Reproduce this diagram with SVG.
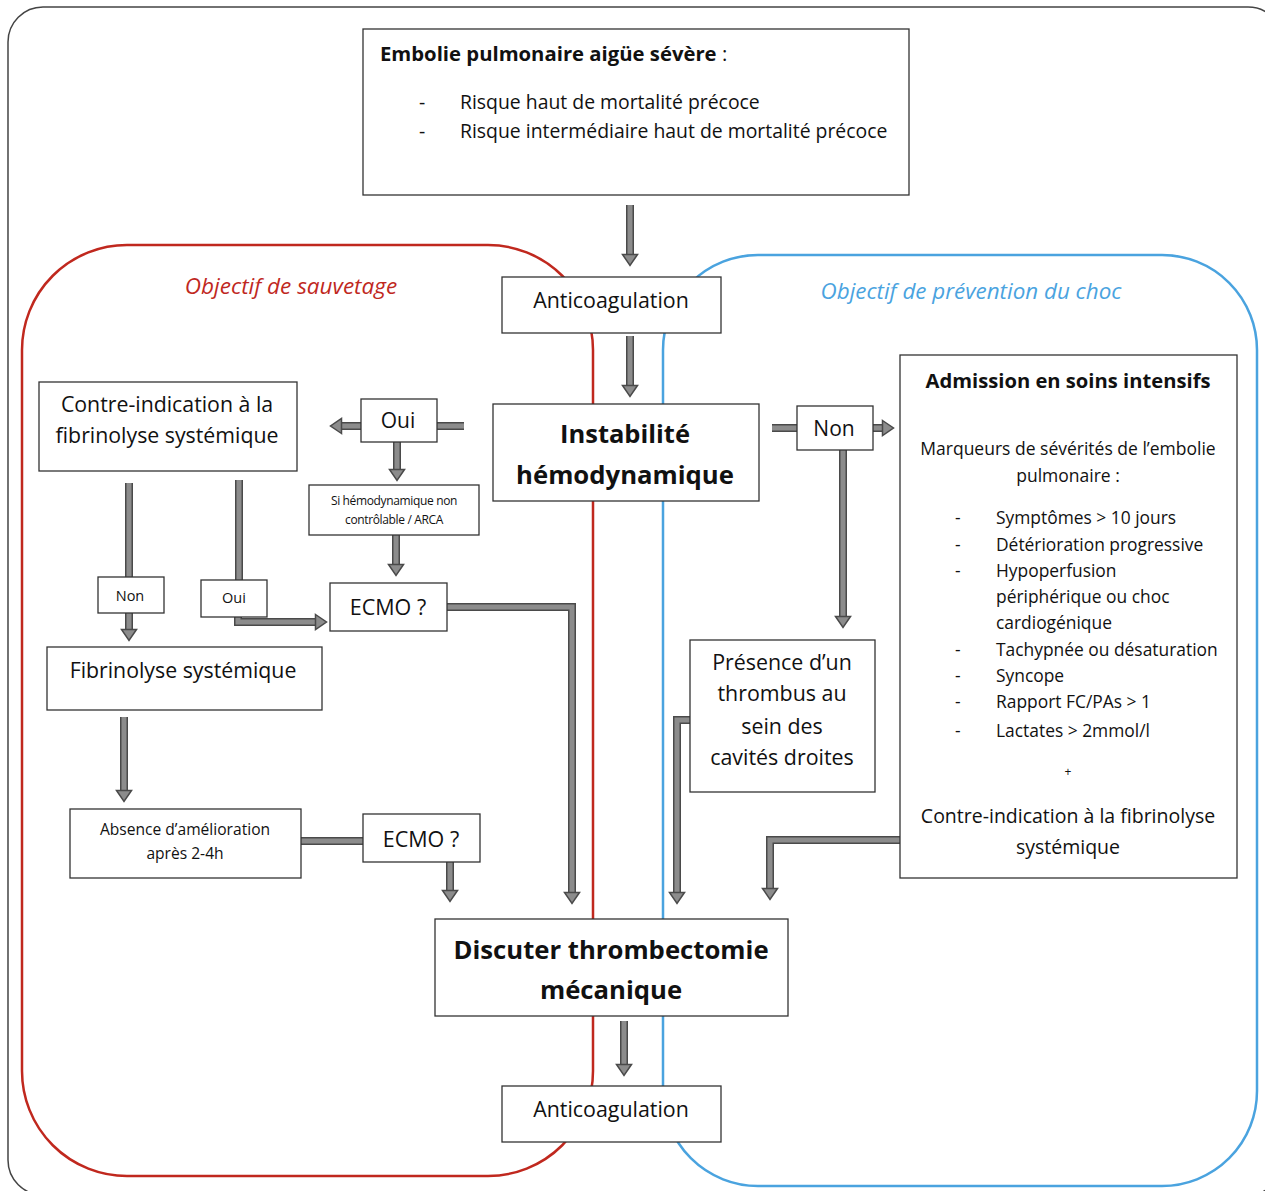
<svg xmlns="http://www.w3.org/2000/svg" width="1265" height="1191" viewBox="0 0 1265 1191">
<style>
text{font-family:"Open Sans","Liberation Sans",sans-serif;fill:#111;}
.box{fill:#fff;stroke:#333;stroke-width:1.3;}
.c{text-anchor:middle;}
.b{font-weight:bold;}
.so{fill:none;stroke:#4a4a4a;stroke-width:8;stroke-linejoin:miter;}
.si{fill:none;stroke:#8c8c8c;stroke-width:5;stroke-linejoin:miter;}
</style>
<defs>
<marker id="ah" markerUnits="userSpaceOnUse" markerWidth="14" markerHeight="18" refX="0.5" refY="8" orient="auto" overflow="visible">
<polygon points="0,0.5 11,8 0,15.5" fill="#8c8c8c" stroke="#4a4a4a" stroke-width="1.5" stroke-linejoin="miter"/>
</marker>
</defs>
<rect x="8" y="7" width="1275" height="1188" rx="35" fill="#fff" stroke="#444" stroke-width="1.5"/>
<g id="zone-sauvetage">
<rect x="22" y="245" width="571" height="931" rx="105" fill="none" stroke="#c0281e" stroke-width="2.5"/>
<text x="291" y="294" class="c" style="font-style:italic;font-size:22.5px;fill:#c0281e">Objectif de sauvetage</text>
</g>
<g id="zone-prevention">
<rect x="663" y="255" width="594" height="931" rx="95" fill="none" stroke="#4aa3df" stroke-width="2.5"/>
<text x="971" y="299" class="c" style="font-style:italic;font-size:22.4px;fill:#4aa3df">Objectif de prévention du choc</text>
</g>
<g id="connectors">
<path class="so" d="M630,205 V255"/><path class="si" d="M630,205 V255" marker-end="url(#ah)"/>
<path class="so" d="M630,336 V386"/><path class="si" d="M630,336 V386" marker-end="url(#ah)"/>
<path class="so" d="M361,426 H341"/><path class="si" d="M361,426 H341" marker-end="url(#ah)"/>
<path class="so" d="M437,426 H464"/><path class="si" d="M437,426 H464"/>
<path class="so" d="M397,442 V470"/><path class="si" d="M397,442 V470" marker-end="url(#ah)"/>
<path class="so" d="M396,535 V565"/><path class="si" d="M396,535 V565" marker-end="url(#ah)"/>
<path class="so" d="M129,483 V577"/><path class="si" d="M129,483 V577"/>
<path class="so" d="M129,613 V630"/><path class="si" d="M129,613 V630" marker-end="url(#ah)"/>
<path class="so" d="M239,480 V580"/><path class="si" d="M239,480 V580"/>
<path class="so" d="M238,617 V622 H316"/><path class="si" d="M238,617 V622 H316" marker-end="url(#ah)"/>
<path class="so" d="M124,717 V791"/><path class="si" d="M124,717 V791" marker-end="url(#ah)"/>
<path class="so" d="M301,841 H363"/><path class="si" d="M301,841 H363"/>
<path class="so" d="M450,862 V891"/><path class="si" d="M450,862 V891" marker-end="url(#ah)"/>
<path class="so" d="M447,607 H572 V893"/><path class="si" d="M447,607 H572 V893" marker-end="url(#ah)"/>
<path class="so" d="M772,428 H797"/><path class="si" d="M772,428 H797"/>
<path class="so" d="M873,428 H883"/><path class="si" d="M873,428 H883" marker-end="url(#ah)"/>
<path class="so" d="M843,450 V617"/><path class="si" d="M843,450 V617" marker-end="url(#ah)"/>
<path class="so" d="M690,720 H677 V893"/><path class="si" d="M690,720 H677 V893" marker-end="url(#ah)"/>
<path class="so" d="M900,840 H770 V889"/><path class="si" d="M900,840 H770 V889" marker-end="url(#ah)"/>
<path class="so" d="M624,1021 V1065"/><path class="si" d="M624,1021 V1065" marker-end="url(#ah)"/>
</g>
<g id="n-embolie">
<rect class="box" x="363" y="29" width="546" height="166"/>
<text x="380" y="61" class="b" style="font-size:20.3px">Embolie pulmonaire aigüe sévère <tspan font-weight="normal">:</tspan></text>
<text x="419" y="109" style="font-size:19.4px">-</text>
<text x="460" y="109" style="font-size:19.4px">Risque haut de mortalité précoce</text>
<text x="419" y="138" style="font-size:19.4px">-</text>
<text x="460" y="138" style="font-size:19.4px">Risque intermédiaire haut de mortalité précoce</text>
</g>
<g id="n-anticoag1">
<rect class="box" x="502" y="277" width="219" height="56"/>
<text x="611" y="308" class="c" style="font-size:21.4px">Anticoagulation</text>
</g>
<g id="n-instabilite">
<rect class="box" x="493" y="404" width="266" height="97"/>
<text x="625" y="443" class="c b" style="font-size:25.5px">Instabilité</text>
<text x="625" y="484" class="c b" style="font-size:25.7px">hémodynamique</text>
</g>
<g id="n-oui1">
<rect class="box" x="361" y="399" width="76" height="43"/>
<text x="398" y="428" class="c" style="font-size:21px">Oui</text>
</g>
<g id="n-ci1">
<rect class="box" x="39" y="382" width="258" height="89"/>
<text x="167" y="412" class="c" style="font-size:21.3px">Contre-indication à la</text>
<text x="167" y="443" class="c" style="font-size:21.3px">fibrinolyse systémique</text>
</g>
<g id="n-si">
<rect class="box" x="309" y="485" width="170" height="50"/>
<text x="394" y="505" class="c" style="font-size:12px;letter-spacing:-0.35px">Si hémodynamique non</text>
<text x="394" y="524" class="c" style="font-size:12px;letter-spacing:-0.35px">contrôlable / ARCA</text>
</g>
<g id="n-ecmo1">
<rect class="box" x="330" y="583" width="117" height="48"/>
<text x="388" y="615" class="c" style="font-size:21.5px">ECMO ?</text>
</g>
<g id="n-non1">
<rect class="box" x="98" y="577" width="66" height="36"/>
<text x="130" y="601" class="c" style="font-size:14.5px">Non</text>
</g>
<g id="n-oui2">
<rect class="box" x="201" y="580" width="66" height="37"/>
<text x="234" y="603" class="c" style="font-size:14.5px">Oui</text>
</g>
<g id="n-fibrinolyse">
<rect class="box" x="47" y="647" width="275" height="63"/>
<text x="183" y="678" class="c" style="font-size:21.3px">Fibrinolyse systémique</text>
</g>
<g id="n-absence">
<rect class="box" x="70" y="809" width="231" height="69"/>
<text x="185" y="835" class="c" style="font-size:15.6px">Absence d’amélioration</text>
<text x="185" y="859" class="c" style="font-size:15.6px">après 2-4h</text>
</g>
<g id="n-ecmo2">
<rect class="box" x="363" y="814" width="117" height="48"/>
<text x="421" y="847" class="c" style="font-size:21.5px">ECMO ?</text>
</g>
<g id="n-thrombectomie">
<rect class="box" x="435" y="919" width="353" height="97"/>
<text x="611" y="959" class="c b" style="font-size:25.7px">Discuter thrombectomie</text>
<text x="611" y="999" class="c b" style="font-size:25.7px">mécanique</text>
</g>
<g id="n-anticoag2">
<rect class="box" x="502" y="1086" width="219" height="56"/>
<text x="611" y="1117" class="c" style="font-size:21.4px">Anticoagulation</text>
</g>
<g id="n-non2">
<rect class="box" x="797" y="406" width="76" height="44"/>
<text x="834" y="436" class="c" style="font-size:21px">Non</text>
</g>
<g id="n-admission">
<rect class="box" x="900" y="355" width="337" height="523"/>
<text x="1068" y="388" class="c b" style="font-size:20.2px">Admission en soins intensifs</text>
<text x="1068" y="455" class="c" style="font-size:17.5px">Marqueurs de sévérités de l’embolie</text>
<text x="1068" y="482" class="c" style="font-size:17.5px">pulmonaire :</text>
<g style="font-size:17.4px">
<text x="955" y="524">-</text><text x="996" y="524">Symptômes &gt; 10 jours</text>
<text x="955" y="551">-</text><text x="996" y="551">Détérioration progressive</text>
<text x="955" y="577">-</text><text x="996" y="577">Hypoperfusion</text>
<text x="996" y="603">périphérique ou choc</text>
<text x="996" y="629">cardiogénique</text>
<text x="955" y="656">-</text><text x="996" y="656">Tachypnée ou désaturation</text>
<text x="955" y="682">-</text><text x="996" y="682">Syncope</text>
<text x="955" y="708">-</text><text x="996" y="708">Rapport FC/PAs &gt; 1</text>
<text x="955" y="737">-</text><text x="996" y="737">Lactates &gt; 2mmol/l</text>
</g>
<text x="1068" y="776" class="c" style="font-size:12px">+</text>
<text x="1068" y="823" class="c" style="font-size:19.5px">Contre-indication à la fibrinolyse</text>
<text x="1068" y="854" class="c" style="font-size:19.5px">systémique</text>
</g>
<g id="n-presence">
<rect class="box" x="690" y="640" width="185" height="152"/>
<text x="782" y="670" class="c" style="font-size:21.4px">Présence d’un</text>
<text x="782" y="701" class="c" style="font-size:21.4px">thrombus au</text>
<text x="782" y="734" class="c" style="font-size:21.4px">sein des</text>
<text x="782" y="765" class="c" style="font-size:21.4px">cavités droites</text>
</g>
</svg>
